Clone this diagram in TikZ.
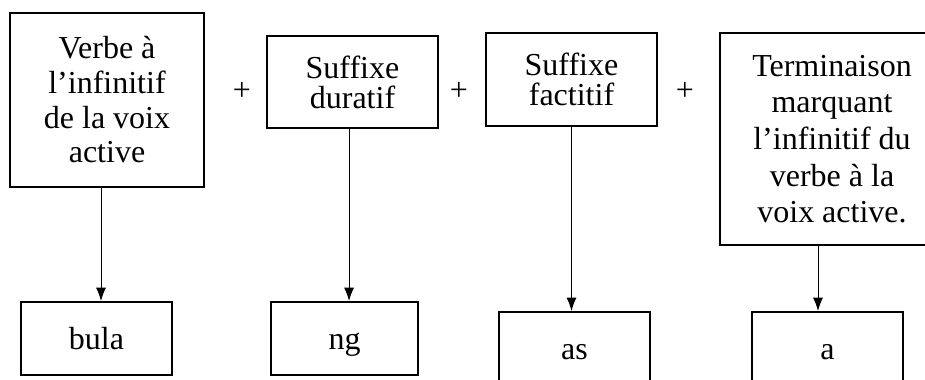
\documentclass[tikz,border=0pt]{standalone}
\usepackage{fontspec}
\setmainfont{Liberation Serif}
\usetikzlibrary{arrows.meta}

\begin{document}
\begin{tikzpicture}[x=0.75pt, y=-0.75pt, -{Latex[length=10pt,width=7.5pt]},
    box/.style={draw, -, line width=1.5pt, align=center, inner sep=0pt,
      font=\fontsize{24}{26}\selectfont},
    word/.style={box, minimum width=113.25pt, minimum height=54.75pt,
      text height=17pt, text depth=0pt},
    plus/.style={font=\fontsize{24}{26}\selectfont}]
    \useasboundingbox (0,0) rectangle (925,379);
    \clip (0,0) rectangle (925,379);
    % upper row
    \node[box, minimum width=145.5pt, minimum height=130.5pt] (verbe) at (107,100) {Verbe à\\l’infinitif\\de la voix\\active};
    \node[plus] (plus1) at (242,91) {+};
    \node[box, minimum width=128.25pt, minimum height=69pt, font=\fontsize{24}{22.5}\selectfont] (duratif) at (352.5,82) {Suffixe\\duratif};
    \node[plus] (plus2) at (459,91) {+};
    \node[box, minimum width=128.25pt, minimum height=69.75pt, font=\fontsize{24}{22.5}\selectfont] (factitif) at (571.5,79.5) {Suffixe\\factitif};
    \node[plus] (plus3) at (685,91) {+};
    \node[box, minimum width=168pt, minimum height=159pt, font=\fontsize{24}{27.5}\selectfont] (terminaison) at (832,139) {Terminaison\\marquant\\l’infinitif du\\verbe à la\\voix active.};
    % lower row
    \node[word] (bula) at (96.5,338.5) {bula};
    \node[word, minimum width=110.25pt] (ng) at (344.5,338.5) {ng};
    \node[word] (as) at (574.5,348.5) {as};
    \node[word] (a) at (827.5,348.5) {a};
    % arrows
    \draw[line width=0.75pt] ([xshift=-4.5pt]verbe.south) -- ([xshift=-4.5pt]verbe.south |- bula.north);
    \draw[line width=0.75pt] ([xshift=-2.6pt]duratif.south) -- ([xshift=-2.6pt]duratif.south |- ng.north);
    \draw[line width=0.75pt] (factitif.south) -- (factitif.south |- as.north);
    \draw[line width=0.75pt] ([xshift=-10.5pt]terminaison.south) -- ([xshift=-10.5pt]terminaison.south |- a.north);
\end{tikzpicture}
\end{document}
